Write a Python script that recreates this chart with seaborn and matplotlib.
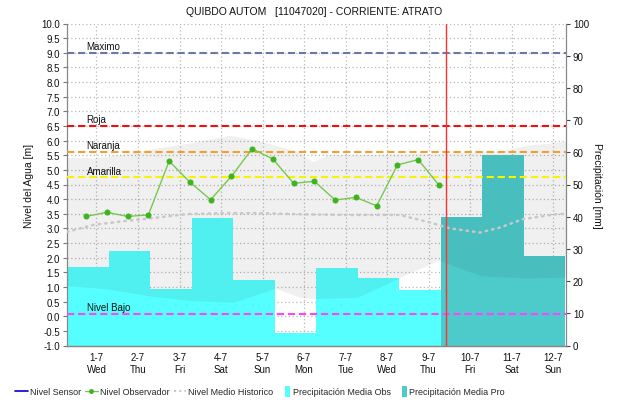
import numpy as np
import matplotlib
matplotlib.use("Agg")
import matplotlib.pyplot as plt
import matplotlib.transforms as mtransforms
import matplotlib.patches as mpatches
from matplotlib.lines import Line2D
from matplotlib.legend_handler import HandlerPatch
from matplotlib.ticker import MultipleLocator, FormatStrFormatter
import seaborn as sns

# ---------------- data ----------------
day_labels = ["1-7", "2-7", "3-7", "4-7", "5-7", "6-7", "7-7", "8-7", "9-7", "10-7", "11-7", "12-7"]
weekdays = ["Wed", "Thu", "Fri", "Sat", "Sun", "Mon", "Tue", "Wed", "Thu", "Fri", "Sat", "Sun"]
day_pos = list(range(len(day_labels)))

# observer readings (time in days from 1-7 noon, level in m)
obs_time = [-0.25, 0.25, 0.75, 1.25, 1.75, 2.25, 2.75, 3.25, 3.75, 4.25,
            4.75, 5.25, 5.75, 6.25, 6.75, 7.25, 7.75, 8.25]
obs_level = [3.41, 3.55, 3.41, 3.46, 5.30, 4.58, 3.98, 4.78, 5.72, 5.37,
             4.54, 4.61, 3.97, 4.06, 3.77, 5.17, 5.35, 4.48]

# historic mean level (dotted)
hist_time = [-0.71, -0.08, 0.73, 1.53, 2.18, 3.0, 4.0, 5.0, 6.0, 7.31,
             8.04, 8.52, 9.24, 9.72, 10.28, 11.1, 11.31]
hist_level = [2.88, 3.12, 3.26, 3.38, 3.49, 3.52, 3.52, 3.48, 3.46, 3.46,
              3.20, 3.00, 2.86, 3.03, 3.32, 3.49, 3.50]

# historic band (upper and lower edges)
band_top_time = [-0.71, -0.05, 0.73, 1.53, 2.33, 3.22, 3.94, 4.73, 4.95, 5.22,
                 5.6, 8.3, 9.7, 10.4, 11.31]
band_top = [5.41, 5.39, 5.54, 5.75, 5.92, 6.17, 5.97, 5.66, 5.55, 5.26,
            5.50, 5.55, 5.62, 5.83, 5.95]
band_low_time = [-0.71, 0.25, 1.31, 2.28, 3.31, 4.33, 4.9, 5.27, 6.3, 7.31,
                 8.25, 9.27, 10.33, 11.31]
band_low = [1.03, 0.92, 0.67, 0.52, 0.46, 0.94, 0.63, 0.58, 0.63, 1.30,
            1.89, 1.37, 1.29, 1.32]

# daily precipitation (mm)
precip_obs_days = [0, 1, 2, 3, 4, 5, 6, 7, 8]
precip_obs = [24.3, 29.5, 17.6, 39.7, 20.2, 3.9, 24.1, 21.1, 17.1]
precip_pro_days = [9, 10, 11]
precip_pro = [39.9, 59.2, 27.7]

# alert levels (m)
level_names = ["Maximo", "Roja", "Naranja", "Amarilla", "Nivel Bajo"]
level_values = [9.0, 6.5, 5.62, 4.75, 0.08]
level_colors = ["#6a78a8", "#ee1111", "#f0a030", "#f5f500", "#ff44ff"]

now_time = 8.41

# ---------------- style ----------------
sns.set_theme(style="white")
plt.rcParams["font.family"] = ["Liberation Sans", "DejaVu Sans"]
plt.rcParams["font.size"] = 7

fig = plt.figure(figsize=(6.21, 4.02), dpi=100)
ax = fig.add_axes([67 / 621, 1 - 346.5 / 402, (566 - 67) / 621, (346.5 - 24.5) / 402])
ax2 = ax.twinx()
ax.set_zorder(ax2.get_zorder() + 1)
ax.patch.set_visible(False)
ax2.patch.set_facecolor("white")

x0, x1 = -0.71, 11.31
ax.set_xlim(x0, x1)
ax.set_ylim(-1.0, 10.0)
ax2.set_ylim(0, 100)

# grid (behind bars)
grid_kw = dict(color="#b8b8b8", lw=0.9, ls=(0, (1, 2)), zorder=0.5)
trans = mtransforms.blended_transform_factory(ax2.transAxes, ax.transData)
for yv in np.arange(-1.0, 10.01, 0.5):
    ax2.plot([0, 1], [yv, yv], transform=trans, **grid_kw)
for xv in day_pos:
    ax2.axvline(xv, **grid_kw)

# precipitation bars
bar_offset = -0.71
ax2.bar([d + bar_offset for d in precip_obs_days], precip_obs, width=1.0, align="edge",
        color="#55ffff", linewidth=0, zorder=1)
ax2.bar([d + bar_offset for d in precip_pro_days], precip_pro, width=1.0, align="edge",
        color="#4dcaca", linewidth=0, zorder=1)
ax2.set_ylim(0, 100)

# historic band (translucent overlay)
poly_x = list(band_top_time) + list(band_low_time[::-1])
poly_y = list(band_top) + list(band_low[::-1])
ax.fill(poly_x, poly_y, color="black", alpha=0.06, lw=0, zorder=1)

# historic mean (dotted)
sns.lineplot(x=hist_time, y=hist_level, ax=ax, color="#c8c8c8", lw=1.8,
             linestyle=(0, (0.6, 2.0)), dash_capstyle="round", zorder=3, legend=False)

# alert levels
for name, val, col in zip(level_names, level_values, level_colors):
    ax.axhline(val, color=col, lw=1.5, ls=(0, (3.5, 1.8)), zorder=4)
    ax.text(-0.24, val + 0.05, name, fontsize=7, ha="left", va="bottom", color="#111111", zorder=7)

# present time
ax.axvline(now_time, color="#ff3030", lw=1.0, zorder=5)

# observer line
sns.lineplot(x=obs_time, y=obs_level, ax=ax, color="#78c850", lw=1.0, marker="o",
             markersize=3.6, markerfacecolor="#3cb41e", markeredgecolor="#3cb41e",
             zorder=6, legend=False)

# axes, ticks
ax.set_xticks(day_pos)
ax.set_xticklabels([f"{d}\n{w}" for d, w in zip(day_labels, weekdays)], fontsize=7)
ax.xaxis.set_minor_locator(MultipleLocator(1 / 24))
ax.set_yticks(np.arange(-1.0, 10.01, 0.5))
ax.yaxis.set_major_formatter(FormatStrFormatter("%.1f"))
ax2.set_yticks(np.arange(0, 101, 10))
ax.tick_params(axis="both", which="major", direction="out", length=3, width=0.8,
               color="#777777", labelsize=7, pad=2, labelcolor="#111111")
ax.tick_params(axis="x", which="minor", direction="out", length=1.5, width=0.5, color="#888888")
ax2.tick_params(axis="y", which="major", direction="out", length=3, width=0.8,
                color="#444444", labelsize=7, pad=2, labelcolor="#111111")
ax.set_xlabel("")
ax.set_ylabel("Nivel del Agua [m]", fontsize=7.5, labelpad=5, color="#111111")
ax2.set_ylabel("Precipitación [mm]", fontsize=7.5, rotation=270, labelpad=9, color="#111111")

for a in (ax, ax2):
    a.spines["top"].set_visible(False)
    for s in ("left", "right", "bottom"):
        a.spines[s].set_color("#888888")
        a.spines[s].set_linewidth(0.9)
ax.spines["right"].set_visible(False)
ax2.spines["left"].set_visible(False)

fig.text(314 / 621, 1 - 11.7 / 402, "QUIBDO AUTOM   [11047020] - CORRIENTE: ATRATO",
         ha="center", va="center", fontsize=7.5, color="#111111")


def narrow_patch(legend, orig_handle, xdescent, ydescent, width, height, fontsize):
    w = 3.6
    return mpatches.Rectangle((-xdescent + width - w - 0.5, -ydescent - 1.5), w, height + 3)


handles = [
    Line2D([], [], color="#0000cc", lw=1.2),
    Line2D([], [], color="#78c850", lw=1.0, marker="o", markersize=2.5,
           markerfacecolor="#3cb41e", markeredgecolor="#3cb41e"),
    Line2D([], [], color="#c8c8c8", lw=1.5, ls=(0, (1, 1.5))),
    mpatches.Patch(facecolor="#55ffff", edgecolor="none"),
    mpatches.Patch(facecolor="#4dcaca", edgecolor="none"),
]
labels = ["Nivel Sensor", "Nivel Observador", "Nivel Medio Historico",
          "Precipitación Media Obs", "Precipitación Media Pro"]
fig.legend(handles, labels, loc="center", bbox_to_anchor=(260 / 621, 1 - 393 / 402), ncol=5,
           frameon=False, fontsize=6.5, handlelength=1.4, handletextpad=0.25,
           columnspacing=0.45, handleheight=0.9, borderpad=0.2,
           handler_map={mpatches.Patch: HandlerPatch(patch_func=narrow_patch)})

fig.savefig("out.png", dpi=100)
